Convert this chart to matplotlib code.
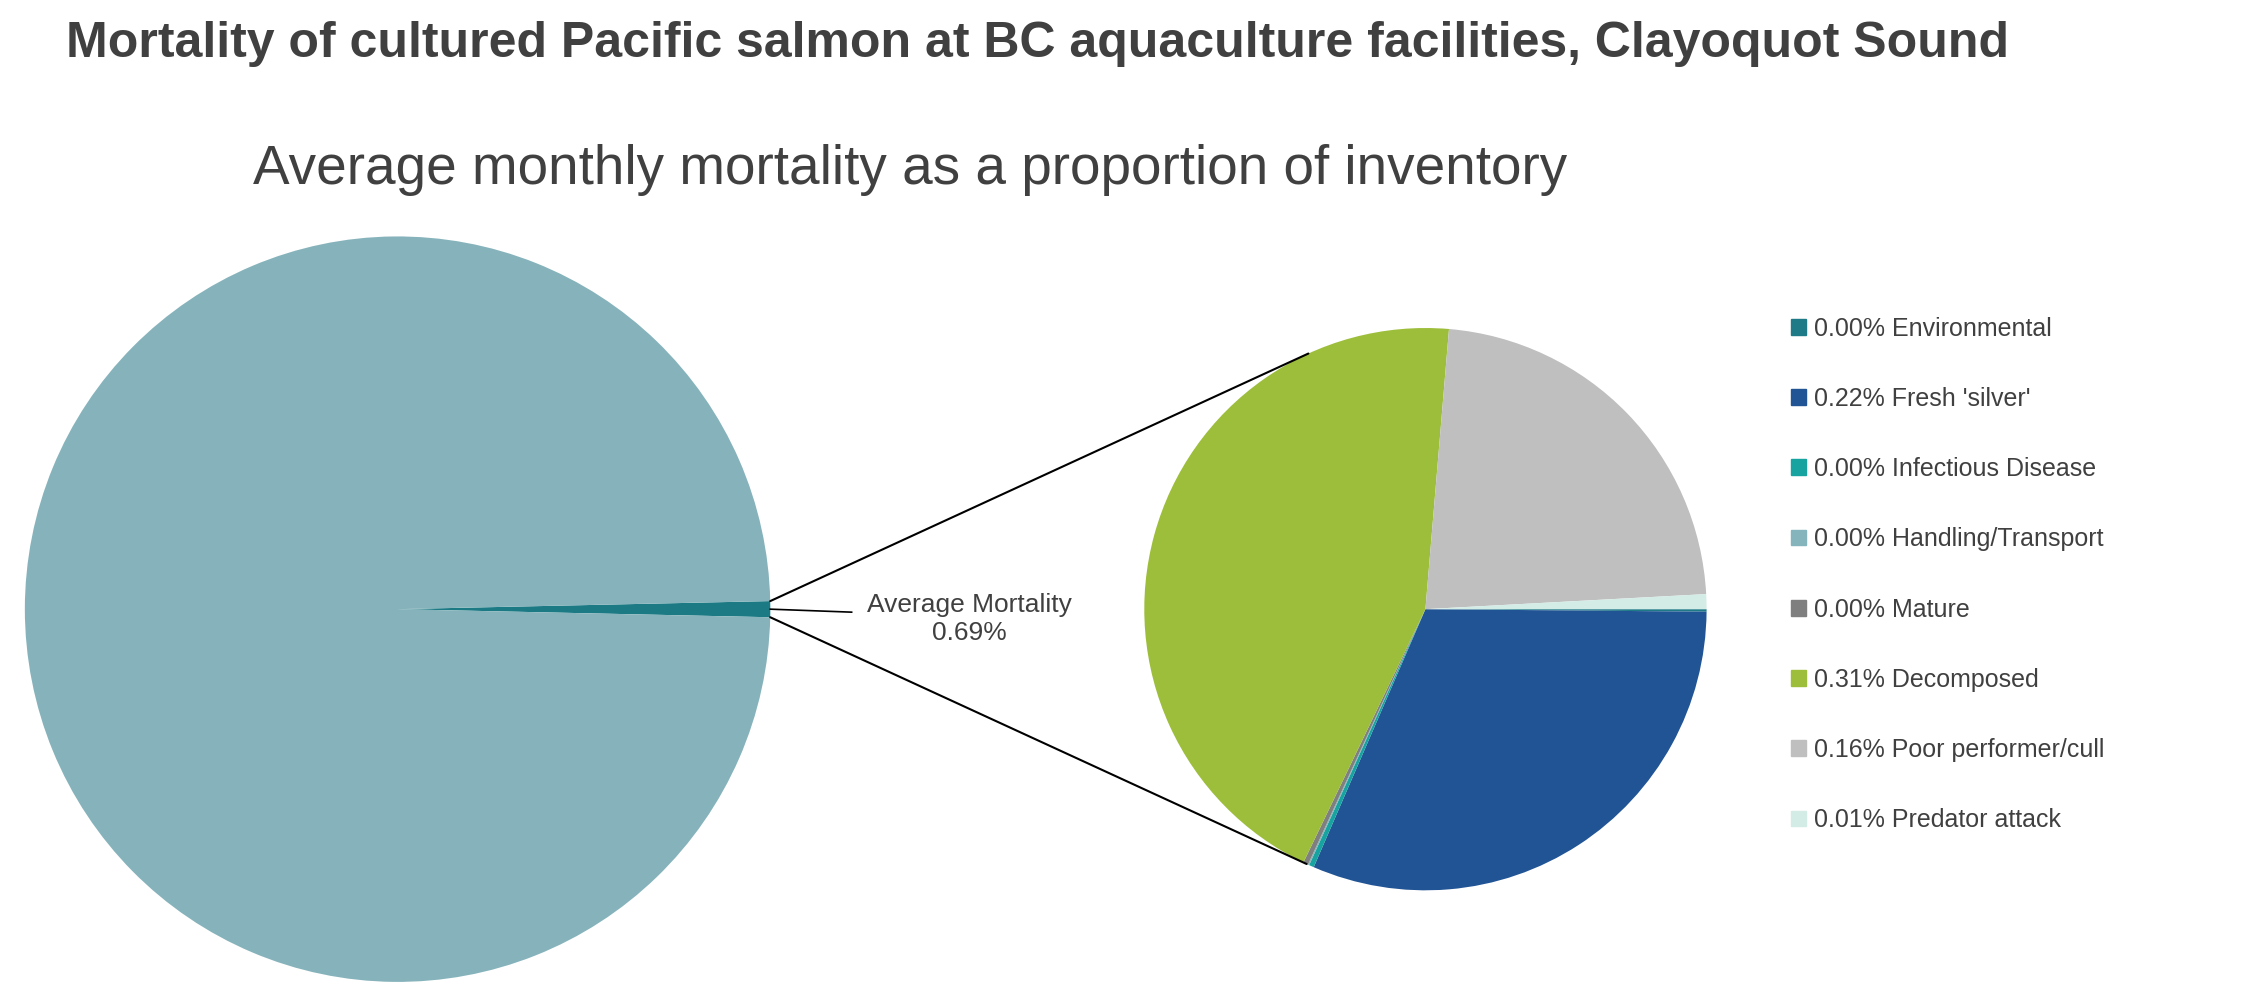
import matplotlib.pyplot as plt
from matplotlib.patches import ConnectionPatch, Patch
import numpy as np

plt.rcParams['font.family'] = ['Liberation Sans', 'DejaVu Sans']

# Data
causes = ["Environmental", "Fresh 'silver'", "Infectious Disease", "Handling/Transport",
          "Mature", "Decomposed", "Poor performer/cull", "Predator attack"]
cause_values = [0.001, 0.22, 0.002, 0.0005, 0.002, 0.31, 0.16, 0.006]
cause_labels = ["0.00%", "0.22%", "0.00%", "0.00%", "0.00%", "0.31%", "0.16%", "0.01%"]
cause_colors = ["#1f7a87", "#215494", "#17a3a0", "#85b4bc", "#7f7f7f", "#9dbe3b", "#bfbfbf", "#d4ece6"]
overall_values = [0.69, 99.31]  # average mortality vs. rest of inventory
overall_colors = ["#1c7a85", "#86b3bb"]

fig = plt.figure(figsize=(22.59, 9.97), dpi=100)

fig.text(0.029, 0.956, "Mortality of cultured Pacific salmon at BC aquaculture facilities, Clayoquot Sound",
         fontsize=36, fontweight='bold', color='#404040', va='center', ha='left')
fig.text(0.403, 0.829, "Average monthly mortality as a proportion of inventory",
         fontsize=39.5, color='#404040', va='center', ha='center')

# Big pie
ax_big = fig.add_axes([0.176 - 0.165, 0.389 - 0.374, 0.330, 0.748])
half = overall_values[0] / sum(overall_values) * 360 / 2
ax_big.pie(overall_values, colors=overall_colors, startangle=-half, counterclock=True)
ax_big.set_xlim(-1, 1)
ax_big.set_ylim(-1, 1)
ax_big.set_aspect('equal')

# Small pie
ax_small = fig.add_axes([0.631 - 0.1245, 0.389 - 0.282, 0.249, 0.564])
ax_small.pie(cause_values, colors=cause_colors, startangle=0, counterclock=False)
ax_small.set_xlim(-1, 1)
ax_small.set_ylim(-1, 1)
ax_small.set_aspect('equal')

# Connecting lines
for ang_big, ang_small in [(half, 114.6), (-half, -115)]:
    p1 = (np.cos(np.radians(ang_big)), np.sin(np.radians(ang_big)))
    p2 = (np.cos(np.radians(ang_small)), np.sin(np.radians(ang_small)))
    con = ConnectionPatch(xyA=p1, coordsA=ax_big.transData, xyB=p2, coordsB=ax_small.transData,
                          color='black', lw=1.5)
    fig.add_artist(con)

# Leader + label
fig.add_artist(plt.Line2D([0.341, 0.377], [0.389, 0.386], color='black', lw=1.2,
                          transform=fig.transFigure))
fig.text(0.429, 0.379, "Average Mortality\n0.69%", fontsize=19, color='#404040',
         ha='center', va='center', linespacing=1.2)

# Legend
handles = [Patch(facecolor=c, edgecolor=c) for c in cause_colors]
labels = [f"{v} {n}" for v, n in zip(cause_labels, causes)]
fig.legend(handles, labels, loc='upper left', bbox_to_anchor=(0.783, 0.705), frameon=False,
           fontsize=18, labelspacing=1.85, handlelength=0.6, handleheight=0.6, handletextpad=0.3,
           labelcolor='#404040')

fig.savefig("out.png", dpi=100)
